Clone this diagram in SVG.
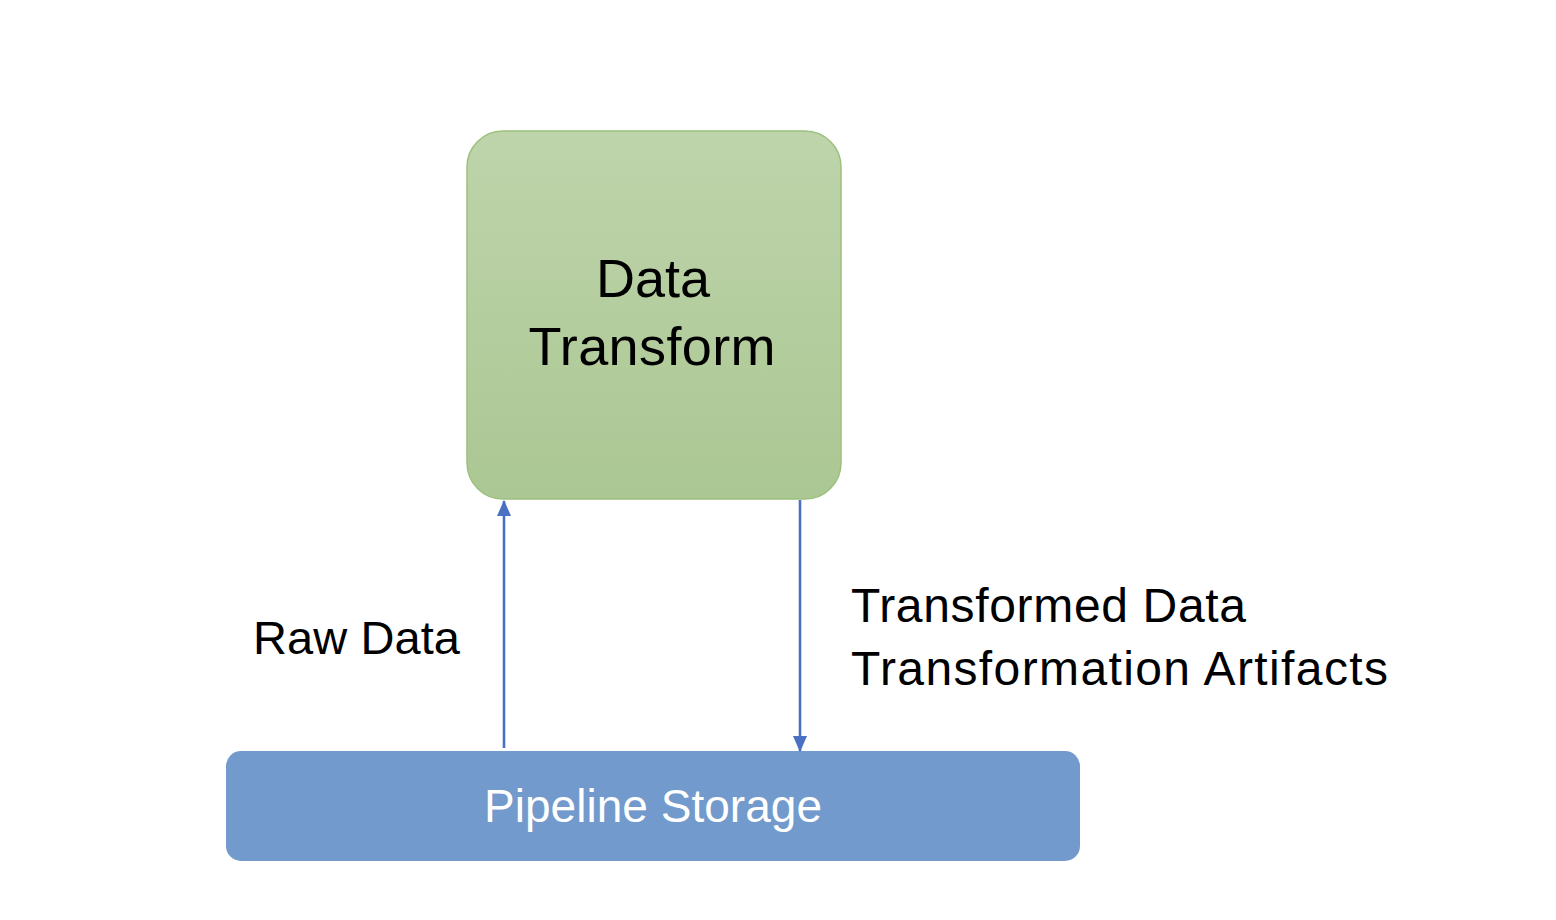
<svg xmlns="http://www.w3.org/2000/svg" width="1556" height="920" viewBox="0 0 1556 920">
<defs>
<linearGradient id="g" x1="0" y1="0" x2="0" y2="1">
<stop offset="0" stop-color="#bed4ab"/>
<stop offset="1" stop-color="#abc793"/>
</linearGradient>
<marker id="ah" viewBox="0 0 16 14" refX="15" refY="7" markerWidth="16" markerHeight="14" orient="auto" markerUnits="userSpaceOnUse">
<path d="M0,0 L16,7 L0,14 z" fill="#4a70c4"/>
</marker>
</defs>
<style>
.lbl{font-family:"Liberation Sans",Arial,sans-serif;fill:#000}
.edge{stroke:#4a70c4;stroke-width:2.6;fill:none}
</style>
<rect width="1556" height="920" fill="#fff"/>
<g id="data-transform">
<rect x="467" y="131" width="374" height="368" rx="36" fill="url(#g)" stroke="#9cc07e" stroke-width="1.5"/>
<text class="lbl" x="653" y="297" font-size="54" text-anchor="middle">Data</text>
<text class="lbl" x="652" y="365" font-size="54" text-anchor="middle" textLength="247">Transform</text>
</g>
<g id="pipeline-storage">
<rect x="226" y="751" width="854" height="110" rx="15" fill="#739acc"/>
<text x="653" y="822" font-size="46" text-anchor="middle" textLength="338" style="font-family:'Liberation Sans',Arial,sans-serif;fill:#fff">Pipeline Storage</text>
</g>
<g id="connectors">
<line class="edge" x1="504" y1="748" x2="504" y2="501" marker-end="url(#ah)"/>
<line class="edge" x1="800" y1="500" x2="800" y2="751" marker-end="url(#ah)"/>
</g>
<g id="labels">
<text class="lbl" x="253" y="654" font-size="47" textLength="207">Raw Data</text>
<text class="lbl" x="851" y="622" font-size="48" textLength="395">Transformed Data</text>
<text class="lbl" x="851" y="685" font-size="48" textLength="537">Transformation Artifacts</text>
</g>
</svg>
